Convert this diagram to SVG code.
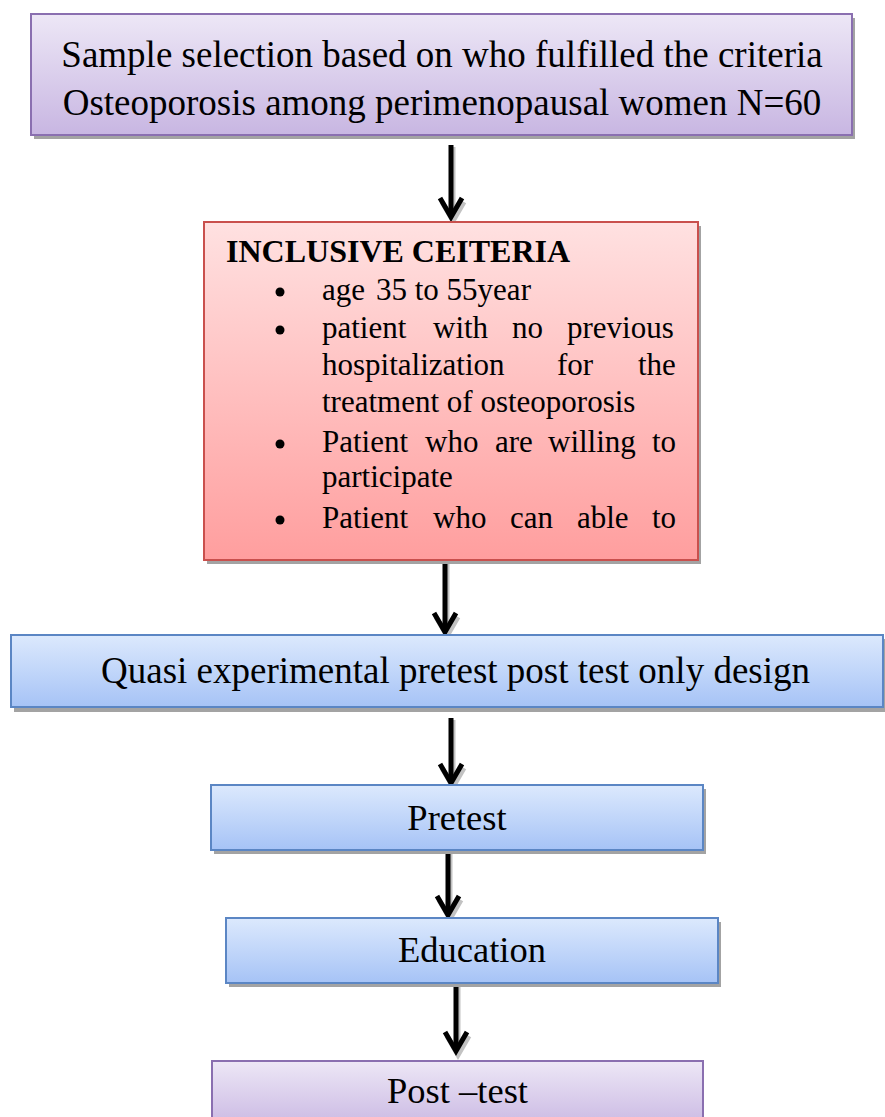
<svg xmlns="http://www.w3.org/2000/svg" width="885" height="1117" viewBox="0 0 885 1117">
<defs>
<linearGradient id="gPurple" x1="0" y1="0" x2="0" y2="1"><stop offset="0" stop-color="#ede7f6"/><stop offset="1" stop-color="#c8b6e2"/></linearGradient>
<linearGradient id="gRed" x1="0" y1="0" x2="0" y2="1"><stop offset="0" stop-color="#ffe1e1"/><stop offset="1" stop-color="#ff9e9e"/></linearGradient>
<linearGradient id="gBlue" x1="0" y1="0" x2="0" y2="1"><stop offset="0" stop-color="#dce9fd"/><stop offset="1" stop-color="#a6c3f6"/></linearGradient>
<marker id="chev" markerUnits="userSpaceOnUse" viewBox="-24 -14 28 28" refX="0" refY="0" markerWidth="28" markerHeight="28" orient="auto" overflow="visible">
<path d="M-19,-11 L0,0 L-19,11" fill="none" stroke="#000" stroke-width="5" stroke-linejoin="miter"/>
</marker>
<marker id="chevS" markerUnits="userSpaceOnUse" viewBox="-24 -14 28 28" refX="0" refY="0" markerWidth="28" markerHeight="28" orient="auto" overflow="visible">
<path d="M-19,-11 L0,0 L-19,11" fill="none" stroke="#9a9a9a" stroke-width="5"/>
</marker>
</defs>
<style>
.shadow{fill:#a3a3a3}
.t{font-family:"Liberation Serif","Times New Roman",serif;fill:#000}
.big{font-size:37px}
.mid{font-size:36.5px}
.b{font-size:31px}
.h{font-size:32px;font-weight:bold}
.pre{white-space:pre}
.conn{stroke:#000;stroke-width:5;fill:none}
.connS{stroke:#9a9a9a;stroke-width:5;fill:none}
</style>
<rect width="885" height="1117" fill="#fff"/>

<g id="connectors">
<g opacity="0.6">
<line class="connS" x1="453" y1="147" x2="453" y2="221" marker-end="url(#chevS)"/>
<line class="connS" x1="447" y1="562" x2="447" y2="636" marker-end="url(#chevS)"/>
<line class="connS" x1="453" y1="720" x2="453" y2="787" marker-end="url(#chevS)"/>
<line class="connS" x1="450" y1="852" x2="450" y2="919" marker-end="url(#chevS)"/>
<line class="connS" x1="458" y1="987" x2="458" y2="1055" marker-end="url(#chevS)"/>
</g>
<line class="conn" x1="451" y1="145" x2="451" y2="217" marker-end="url(#chev)"/>
<line class="conn" x1="445" y1="560" x2="445" y2="632" marker-end="url(#chev)"/>
<line class="conn" x1="451" y1="718" x2="451" y2="783" marker-end="url(#chev)"/>
<line class="conn" x1="448" y1="850" x2="448" y2="915" marker-end="url(#chev)"/>
<line class="conn" x1="456" y1="985" x2="456" y2="1051" marker-end="url(#chev)"/>
</g>

<g id="sample">
<rect class="shadow" x="34" y="18" width="821" height="121"/>
<rect x="31" y="14" width="821" height="121" fill="url(#gPurple)" stroke="#8a6fb0" stroke-width="2"/>
<text class="t big" x="442" y="67" text-anchor="middle">Sample selection based on who fulfilled the criteria</text>
<text class="t big" x="442" y="115" text-anchor="middle">Osteoporosis among perimenopausal women N=60</text>
</g>

<g id="criteria">
<rect class="shadow" x="207" y="226" width="494" height="338"/>
<rect x="204" y="222" width="494" height="338" fill="url(#gRed)" stroke="#c9504d" stroke-width="2"/>
<text class="t h" x="226" y="262">INCLUSIVE CEITERIA</text>
<g fill="#000">
<circle cx="280" cy="292" r="4.5"/>
<circle cx="280" cy="330" r="4.5"/>
<circle cx="280" cy="444" r="4.5"/>
<circle cx="280" cy="520" r="4.5"/>
</g>
<text class="t b" y="300"><tspan x="322">age</tspan><tspan x="376">35 to 55year</tspan></text>
<text class="t b" y="338"><tspan x="322">patient</tspan><tspan x="433">with</tspan><tspan x="512">no</tspan><tspan x="567">previous</tspan></text>
<text class="t b" y="375"><tspan x="322">hospitalization</tspan><tspan x="557">for</tspan><tspan x="638">the</tspan></text>
<text class="t b" x="322" y="412">treatment of osteoporosis</text>
<text class="t b" y="452"><tspan x="322">Patient</tspan><tspan x="425">who</tspan><tspan x="495">are</tspan><tspan x="548">willing</tspan><tspan x="652">to</tspan></text>
<text class="t b" x="322" y="487">participate</text>
<text class="t b" y="528"><tspan x="322">Patient</tspan><tspan x="433">who</tspan><tspan x="510">can</tspan><tspan x="577">able</tspan><tspan x="652">to</tspan></text>
</g>

<g id="design">
<rect class="shadow" x="14" y="639" width="872" height="73"/>
<rect x="11" y="635" width="872" height="72" fill="url(#gBlue)" stroke="#5b86c4" stroke-width="2"/>
<text class="t big" x="455.5" y="683" text-anchor="middle">Quasi experimental pretest post test only design</text>
</g>

<g id="pretest">
<rect class="shadow" x="214" y="789" width="492" height="65"/>
<rect x="211" y="785" width="492" height="65" fill="url(#gBlue)" stroke="#5b86c4" stroke-width="2"/>
<text class="t mid" x="457" y="830" text-anchor="middle">Pretest</text>
</g>

<g id="education">
<rect class="shadow" x="229" y="922" width="492" height="65"/>
<rect x="226" y="918" width="492" height="65" fill="url(#gBlue)" stroke="#5b86c4" stroke-width="2"/>
<text class="t mid" x="472" y="962" text-anchor="middle">Education</text>
</g>

<g id="posttest">
<rect x="212" y="1061" width="491" height="70" fill="url(#gPurple)" stroke="#8a6fb0" stroke-width="2"/>
<text class="t mid" x="457.5" y="1103" text-anchor="middle">Post –test</text>
</g>
</svg>
